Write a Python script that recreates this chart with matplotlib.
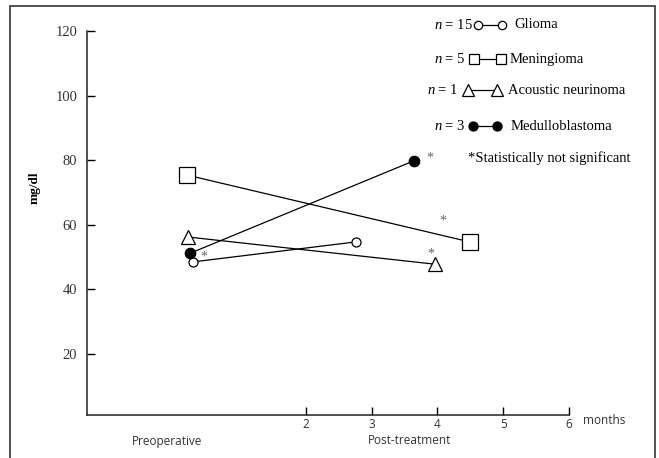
import matplotlib.pyplot as plt
from matplotlib.lines import Line2D
from matplotlib.patches import Rectangle

plt.rcParams['mathtext.fontset'] = 'custom'
plt.rcParams['mathtext.it'] = 'Liberation Serif:italic'
plt.rcParams['mathtext.rm'] = 'Liberation Serif'

# data
groups = ['Glioma', 'Meningioma', 'Acoustic neurinoma', 'Medulloblastoma']
n_cases = [15, 5, 1, 3]
x_pre = [0.28, 0.19, 0.21, 0.24]
x_post = [2.76, 4.49, 3.96, 3.64]
y_pre = [48.5, 75.4, 56.2, 51.2]
y_post = [54.7, 54.7, 47.8, 79.8]
y_ticks = [20, 40, 60, 80, 100, 120]
x_ticks = [2, 3, 4, 5, 6]

markers = ['o', 's', '^', 'o']
faces = ['white', 'white', 'white', 'black']
sizes = [6.5, 11.5, 10, 7.5]
leg_sizes = [6, 7, 9, 6.5]

W, H = 659, 458
fig = plt.figure(figsize=(W / 100, H / 100), dpi=100)
ax = fig.add_axes([87 / W, 1 - 415 / H, (569 - 87) / W, (415 - 31) / H])
ax.set_xlim(-1.33, 6)
ax.set_ylim(1.1, 120)

def fx(px):
    return px / W

def fy(py):
    return 1 - py / H

# outer frame
fig.add_artist(Rectangle((fx(10), fy(475)), fx(645), (475 - 6) / H, transform=fig.transFigure,
                         fill=False, edgecolor='#444444', linewidth=1.3, clip_on=False))

for i in range(len(groups)):
    ax.plot([x_pre[i], x_post[i]], [y_pre[i], y_post[i]], color='black', lw=0.9,
            marker=markers[i], markersize=sizes[i], markerfacecolor=faces[i],
            markeredgecolor='black', markeredgewidth=0.9, clip_on=False)

# asterisks
star = dict(textcoords='offset pixels', ha='center', va='center', fontsize=10,
            color='#666666', family='Liberation Serif')
ax.annotate('*', (x_post[3], y_post[3]), xytext=(16, 3), **star)
ax.annotate('*', (x_post[1], y_post[1]), xytext=(-27, 21), **star)
ax.annotate('*', (x_post[2], y_post[2]), xytext=(-4, 10), **star)
ax.annotate('*', (x_pre[3], y_pre[3]), xytext=(14, -4), **star)

for s in ['top', 'right']:
    ax.spines[s].set_visible(False)
for s in ['left', 'bottom']:
    ax.spines[s].set_linewidth(1.1)
    ax.spines[s].set_color('#222222')

ax.set_yticks(y_ticks)
ax.set_yticklabels([str(v) for v in y_ticks], family='Liberation Serif', fontsize=10.5, color='#333333')
ax.tick_params(axis='y', direction='in', length=6, width=1, pad=7)
ax.set_xticks(x_ticks)
ax.set_xticklabels([str(v) for v in x_ticks], family='Open Sans', fontsize=8.5, color='#333333')
ax.tick_params(axis='x', direction='in', length=6, width=1, pad=2)

fig.text(fx(35), fy(188), 'mg/dl', rotation=90, ha='center', va='center',
         family='Liberation Serif', fontweight='bold', fontsize=9.5)
fig.text(fx(167), fy(441), 'Preoperative', ha='center', va='center', family='Open Sans',
         fontsize=8.5, color='#333333')
fig.text(fx(410), fy(441), 'Post-treatment', ha='center', va='center', family='Open Sans',
         fontsize=8.5, color='#333333')
fig.text(fx(583), fy(421), 'months', ha='left', va='center', family='Open Sans',
         fontsize=8.5, color='#333333')

# legend drawn by hand
leg_y = [25, 59, 90, 126]
n_x = [434, 434, 427, 434]
m_x = [(478, 502), (474, 501), (468, 497), (473, 497)]
t_x = [514, 510, 508, 511]
serif = dict(family='Liberation Serif', fontsize=10.5, va='center')
for i in range(len(groups)):
    fig.text(fx(n_x[i]), fy(leg_y[i]), '$n$ = %d' % n_cases[i], ha='left', **serif)
    fig.add_artist(Line2D([fx(m_x[i][0]), fx(m_x[i][1])], [fy(leg_y[i]), fy(leg_y[i])],
                          transform=fig.transFigure, color='black', lw=0.9,
                          marker=markers[i], markersize=leg_sizes[i], markerfacecolor=faces[i],
                          markeredgecolor='black', markeredgewidth=0.9))
    fig.text(fx(t_x[i]), fy(leg_y[i]), groups[i], ha='left', **serif)
fig.text(fx(468), fy(158), '*Statistically not significant', ha='left', **serif)

fig.savefig('out.png', dpi=100)
